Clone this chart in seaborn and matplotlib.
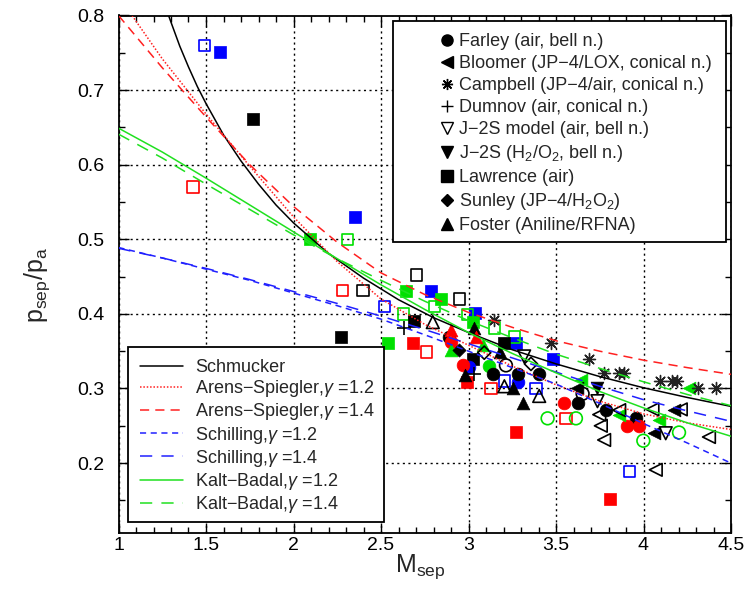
import numpy as np
import pandas as pd
import matplotlib
matplotlib.use("Agg")
import matplotlib.pyplot as plt
import seaborn as sns
from matplotlib.lines import Line2D
from matplotlib.patches import Rectangle
from matplotlib.ticker import MultipleLocator, FormatStrFormatter

# ---------------- theory curves ----------------
schm_M = [1.28, 1.3, 1.35, 1.4, 1.45, 1.5, 1.6, 1.7, 1.8, 1.9, 2.0, 2.2, 2.4, 2.6, 2.8, 3.0, 3.25, 3.5, 3.75, 4.0, 4.25, 4.5]
schm_p = [0.804, 0.791, 0.759, 0.731, 0.705, 0.682, 0.640, 0.605, 0.574, 0.546, 0.522, 0.481, 0.448, 0.419, 0.395, 0.375, 0.352, 0.333, 0.316, 0.301, 0.288, 0.276]

curve_M = [1.0, 1.25, 1.5, 1.75, 2.0, 2.25, 2.5, 2.75, 3.0, 3.25, 3.5, 3.75, 4.0, 4.25, 4.5]
as12_p = [0.826, 0.742, 0.668, 0.598, 0.530, 0.470, 0.420, 0.386, 0.358, 0.330, 0.305, 0.283, 0.266, 0.254, 0.245]
as14_p = [0.800, 0.730, 0.664, 0.600, 0.544, 0.496, 0.455, 0.426, 0.402, 0.382, 0.364, 0.350, 0.338, 0.328, 0.319]
sc12_p = [0.489, 0.475, 0.460, 0.445, 0.428, 0.411, 0.393, 0.372, 0.350, 0.328, 0.306, 0.280, 0.253, 0.227, 0.200]
sc14_p = [0.488, 0.475, 0.461, 0.446, 0.430, 0.414, 0.397, 0.379, 0.360, 0.341, 0.322, 0.303, 0.285, 0.270, 0.256]
kb12_p = [0.649, 0.617, 0.582, 0.546, 0.510, 0.474, 0.439, 0.406, 0.375, 0.347, 0.321, 0.296, 0.274, 0.254, 0.236]
kb14_p = [0.641, 0.609, 0.574, 0.540, 0.506, 0.474, 0.445, 0.417, 0.391, 0.368, 0.346, 0.327, 0.309, 0.292, 0.277]

curve_labels = ["Schmucker",
                "Arens\u2212Spiegler,$\\gamma$ =1.2", "Arens\u2212Spiegler,$\\gamma$ =1.4",
                "Schilling,$\\gamma$ =1.2", "Schilling,$\\gamma$ =1.4",
                "Kalt\u2212Badal,$\\gamma$ =1.2", "Kalt\u2212Badal,$\\gamma$ =1.4"]

# ---------------- experimental data ----------------
# colour code: k / r / b / g ; fill: 1 filled, 0 open
farley_M = [2.891, 3.138, 3.281, 3.404, 3.623, 3.785, 3.956, 3.214, 3.652, 2.967, 2.900, 3.547, 3.903, 3.975, 3.005, 3.281, 3.119, 3.452, 3.614, 3.999, 4.203]
farley_p = [0.369, 0.320, 0.320, 0.320, 0.280, 0.271, 0.261, 0.331, 0.293, 0.331, 0.362, 0.280, 0.250, 0.250, 0.329, 0.309, 0.330, 0.260, 0.260, 0.230, 0.241]
farley_c = list("kkkkkkk") + list("kk") + list("rrrrr") + list("bb") + list("g") + list("gggg")
farley_f = [1]*7 + [0]*2 + [1]*5 + [1]*2 + [1] + [0]*4

bloomer_M = [3.618, 4.175, 4.061, 3.747, 3.756, 3.775, 3.861, 4.051, 4.213, 4.374, 4.070, 3.642, 3.861, 4.089, 4.260]
bloomer_p = [0.300, 0.271, 0.240, 0.265, 0.250, 0.231, 0.271, 0.272, 0.272, 0.235, 0.191, 0.311, 0.264, 0.258, 0.300]
bloomer_c = list("kkk") + list("kkkkkkkk") + list("gggg")
bloomer_f = [1]*3 + [0]*8 + [1]*4

campbell_M = [3.148, 3.471, 3.686, 3.775, 3.861, 3.889, 4.093, 4.165, 4.193, 4.313, 4.416]
campbell_p = [0.392, 0.361, 0.340, 0.321, 0.321, 0.321, 0.310, 0.310, 0.310, 0.300, 0.300]

dumnov_M = [2.634, 3.034]
dumnov_p = [0.381, 0.319]

j2sm_M = [3.318, 3.737, 4.127]
j2sm_p = [0.343, 0.283, 0.240]

j2s_M = [3.733]
j2s_p = [0.301]

lawrence_M = [1.767, 2.269, 2.686, 3.024, 3.205,
              2.397, 2.703, 2.950,
              2.682, 2.990, 3.272, 3.810,
              1.425, 2.279, 2.758, 3.129, 3.557,
              1.579, 2.349, 2.788, 3.035, 3.272, 3.480,
              1.493, 2.520, 3.205, 3.386, 3.918,
              2.092, 2.644, 2.840, 2.541, 3.024,
              2.309, 2.630, 2.807, 2.993, 3.148, 3.262]
lawrence_p = [0.661, 0.369, 0.390, 0.340, 0.361,
              0.431, 0.452, 0.420,
              0.361, 0.309, 0.242, 0.152,
              0.570, 0.431, 0.349, 0.300, 0.260,
              0.751, 0.530, 0.431, 0.401, 0.361, 0.340,
              0.760, 0.410, 0.310, 0.300, 0.189,
              0.500, 0.431, 0.420, 0.361, 0.389,
              0.500, 0.400, 0.410, 0.399, 0.381, 0.369]
lawrence_c = list("kkkkk") + list("kkk") + list("rrrr") + list("rrrrr") + list("bbbbbb") + list("bbbbb") + list("ggggg") + list("gggggg")
lawrence_f = [1]*5 + [0]*3 + [1]*4 + [0]*5 + [1]*6 + [0]*5 + [1]*5 + [0]*6

sunley_M = [2.948, 3.090, 3.357]
sunley_p = [0.352, 0.348, 0.333]
sunley_f = [1, 0, 0]

foster_M = [3.030, 3.180, 2.982, 3.252, 3.309, 2.796, 3.205, 3.404, 2.901, 3.043, 2.901, 3.081]
foster_p = [0.381, 0.349, 0.318, 0.300, 0.280, 0.389, 0.303, 0.290, 0.378, 0.369, 0.352, 0.358]
foster_c = list("kkkkk") + list("kkk") + list("rr") + list("gg")
foster_f = [1]*5 + [0]*3 + [1]*2 + [1]*2

legend_labels = ["Farley (air, bell n.)",
                 "Bloomer (JP\u22124/LOX, conical n.)",
                 "Campbell (JP\u22124/air, conical n.)",
                 "Dumnov (air, conical n.)",
                 "J\u22122S model (air, bell n.)",
                 "J\u22122S (H$_2$/O$_2$, bell n.)",
                 "Lawrence (air)",
                 "Sunley (JP\u22124/H$_2$O$_2$)",
                 "Foster (Aniline/RFNA)"]

x_ticks = [1, 1.5, 2, 2.5, 3, 3.5, 4, 4.5]
y_ticks = [0.2, 0.3, 0.4, 0.5, 0.6, 0.7, 0.8]

# ---------------- style ----------------
sns.set_style("ticks")
plt.rcParams["font.family"] = ["Liberation Sans", "DejaVu Sans"]
plt.rcParams["mathtext.fontset"] = "custom"
plt.rcParams["mathtext.rm"] = "Liberation Sans"
plt.rcParams["mathtext.it"] = "Liberation Sans:italic"
plt.rcParams["mathtext.bf"] = "Liberation Sans:bold"
plt.rcParams["mathtext.sf"] = "Liberation Sans"

COL = {"k": "#000000", "r": "#ff0000", "b": "#0000ff", "g": "#00e000"}
RED, BLUE, GREEN = "#ff2020", "#2020ff", "#20e020"

W, H = 751, 591
fig = plt.figure(figsize=(W / 100, H / 100), dpi=100)
ax = fig.add_axes([118.5 / W, 1 - 533 / H, 612.5 / W, 517.5 / H])

# ---------------- curves ----------------
curve_specs = [
    (schm_M, schm_p, "black", "-"),
    (curve_M, as12_p, RED, (0, (1, 1.2))),
    (curve_M, as14_p, RED, (0, (6, 4))),
    (curve_M, sc12_p, BLUE, (0, (4, 3))),
    (curve_M, sc14_p, BLUE, (0, (8, 6))),
    (curve_M, kb12_p, GREEN, "-"),
    (curve_M, kb14_p, GREEN, (0, (8, 6))),
]
for xs, ys, c, ls in curve_specs:
    sns.lineplot(x=xs, y=ys, color=c, linestyle=ls, linewidth=1.1, ax=ax,
                 sort=False, estimator=None, legend=False, zorder=4)

# ---------------- scatter ----------------
def draw(Ms, ps, cols, fills, marker, size, lw=1.2):
    df = pd.DataFrame({"M": Ms, "p": ps, "c": cols, "f": fills})
    for (c, f), g in df.groupby(["c", "f"]):
        col = COL[c]
        sns.scatterplot(x=g["M"].tolist(), y=g["p"].tolist(), marker=marker, s=size,
                        color=col, edgecolor=col,
                        facecolor=(col if f else "none"),
                        linewidth=(0.5 if f else lw), ax=ax, legend=False, zorder=3)

draw(lawrence_M, lawrence_p, lawrence_c, lawrence_f, "s", 66)
draw(farley_M, farley_p, farley_c, farley_f, "o", 84)
draw(bloomer_M, bloomer_p, bloomer_c, bloomer_f, "<", 84)
draw(foster_M, foster_p, foster_c, foster_f, "^", 84)
draw(sunley_M, sunley_p, ["k"] * len(sunley_M), sunley_f, "D", 45)
draw(j2sm_M, j2sm_p, ["k"] * len(j2sm_M), [0] * len(j2sm_M), "v", 84)
draw(j2s_M, j2s_p, ["k"] * len(j2s_M), [1] * len(j2s_M), "v", 84)
sns.scatterplot(x=campbell_M, y=campbell_p, marker=(8, 2, 0), s=75, color="#222222",
                linewidth=1.0, ax=ax, legend=False, zorder=3)
sns.scatterplot(x=dumnov_M, y=dumnov_p, marker="+", s=110, color="black",
                linewidth=1.2, ax=ax, legend=False, zorder=3)

# ---------------- axes ----------------
ax.set_xlim(1, 4.5)
ax.set_ylim(0.1063, 0.8)
ax.set_xticks(x_ticks)
ax.set_yticks(y_ticks)
ax.xaxis.set_minor_locator(MultipleLocator(0.1))
ax.yaxis.set_minor_locator(MultipleLocator(0.05))
ax.xaxis.set_major_formatter(FormatStrFormatter("%g"))
ax.yaxis.set_major_formatter(FormatStrFormatter("%g"))
ax.tick_params(which="both", direction="in", top=True, right=True, colors="black", labelsize=14)
ax.tick_params(which="major", length=7, width=1)
ax.tick_params(which="minor", length=4, width=1)
ax.tick_params(axis="y", pad=10)
ax.tick_params(axis="x", pad=3)
for sp in ax.spines.values():
    sp.set_linewidth(1.3)
    sp.set_color("black")
ax.grid(True, which="major", color="black", linestyle=(0, (1.5, 2.5)), linewidth=1.0)
ax.set_axisbelow(True)

ax.set_xlabel("M$_{\\rm sep}$", fontsize=18)
ax.set_ylabel("p$_{\\rm sep}$/p$_{\\rm a}$", fontsize=18)
ax.xaxis.set_label_coords(0.492, -0.038)
ax.yaxis.set_label_coords(-0.108, 0.479)

# ---------------- legend frames ----------------
def px2ax(x, y):
    return (x - 118.5) / 612.5, 1 - (y - 15.5) / 517.5

x0, y0 = px2ax(128, 522)
x1, y1 = px2ax(384, 347)
ax.add_patch(Rectangle((x0, y0), x1 - x0, y1 - y0, transform=ax.transAxes,
                       facecolor="white", edgecolor="black", linewidth=1.3, zorder=5, clip_on=False))
x0, y0 = px2ax(393, 242)
x1, y1 = px2ax(726, 21)
ax.add_patch(Rectangle((x0, y0), x1 - x0, y1 - y0, transform=ax.transAxes,
                       facecolor="white", edgecolor="black", linewidth=1.3, zorder=5, clip_on=False))

# left legend (curves)
curve_handles = [Line2D([], [], color=c, linestyle=ls, linewidth=1.1) for _, _, c, ls in curve_specs]
lx, ly = px2ax(140, 359)
leg1 = ax.legend(curve_handles, curve_labels, loc="upper left", bbox_to_anchor=(lx, ly),
                 bbox_transform=ax.transAxes, frameon=False, borderpad=0, borderaxespad=0,
                 handlelength=2.38, handletextpad=0.66, labelspacing=0.12, fontsize=13)
leg1.set_zorder(6)
ax.add_artist(leg1)

# right legend (data sources)
mk = [("o", "k"), ("<", "k"), ((8, 2, 0), "k"), ("+", "k"), ("v", "none"),
      ("v", "k"), ("s", "k"), ("D", "k"), ("^", "k")]
data_handles = []
for m, fc in mk:
    data_handles.append(Line2D([], [], linestyle="none", marker=m, color="black",
                               markerfacecolor=fc, markeredgecolor="black",
                               markersize=(6 if m == "D" else 8), markeredgewidth=1.0))
rx, ry = px2ax(439.8, 33)
leg2 = ax.legend(data_handles, legend_labels, loc="upper left", bbox_to_anchor=(rx, ry),
                 bbox_transform=ax.transAxes, frameon=False, borderpad=0, borderaxespad=0,
                 handlelength=0.8, handletextpad=0.27, labelspacing=0.28, fontsize=13)
leg2.set_zorder(6)

fig.savefig("out.png", dpi=100)
